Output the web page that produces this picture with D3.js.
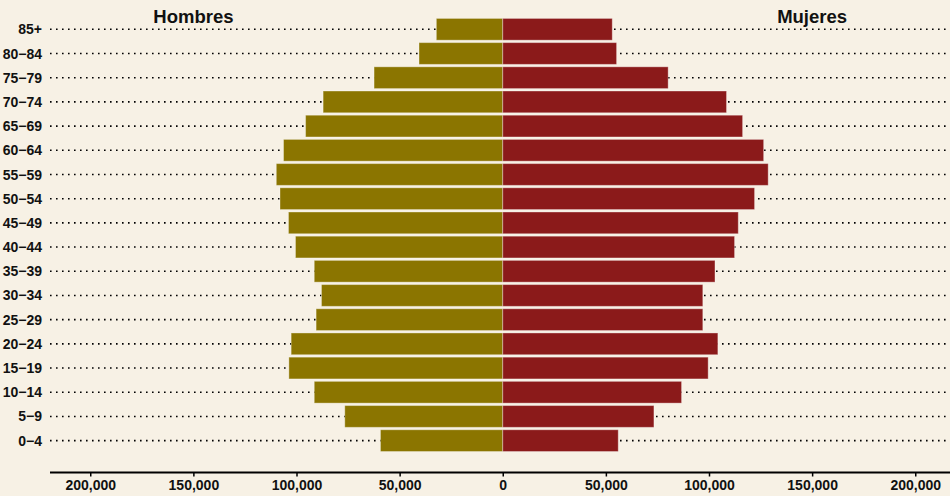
<!DOCTYPE html>
<html>
<head>
<meta charset="utf-8">
<script src="https://cdn.jsdelivr.net/npm/d3@7"></script>
<style>
  body { margin: 0; background: #f7f1e5; }
  svg { display: block; font-family: 'Liberation Sans', Arial, sans-serif; }
</style>
</head>
<body>
<svg id="chart" width="950" height="496"></svg>
<script>
// Datos de la pirámide (grupos de edad de abajo hacia arriba)
const grupos = ['0−4', '5−9', '10−14', '15−19', '20−24', '25−29', '30−34', '35−39', '40−44',
  '45−49', '50−54', '55−59', '60−64', '65−69', '70−74', '75−79', '80−84', '85+']
const hombres = [59300, 76600, 91400, 103700, 102600, 90500, 87900, 91400, 100500,
  103900, 108000, 109800, 106300, 95600, 87100, 62400, 40600, 32200]
const mujeres = [56000, 73300, 86700, 99600, 104300, 97000, 97000, 102900, 112400,
  114200, 122100, 128700, 126500, 116300, 108500, 80200, 55200, 53100]
const ticks = [-200000, -150000, -100000, -50000, 0, 50000, 100000, 150000, 200000]

const svg = d3.select('#chart')
const width = +svg.attr('width')
const height = +svg.attr('height')

svg.append('rect')
    .attr('width', width)
    .attr('height', height)
    .attr('fill', '#f7f1e5')

const margin = { top: 16, right: 0, bottom: 23, left: 49 }

const xScale = d3.scaleLinear()
    .domain([-220000, 220000])
    .range([margin.left, margin.left + 907.5])

const yScale = d3.scaleBand()
    .domain(grupos.slice().reverse())
    .range([margin.top, margin.top + 24.33 * 18])
    .padding(0.1)

const axisY = height - margin.bottom - 0.5

// Líneas punteadas de cada grupo
svg.append('g').selectAll('line').data(grupos)
    .enter().append('line')
        .attr('x1', 50)
        .attr('x2', width)
        .attr('y1', d => yScale(d) + yScale.bandwidth() / 2)
        .attr('y2', d => yScale(d) + yScale.bandwidth() / 2)
        .attr('stroke', '#000')
        .attr('stroke-width', 1.6)
        .attr('stroke-dasharray', '1.6,4.4')

const datos = grupos.map((g, i) => ({ grupo: g, h: hombres[i], m: mujeres[i] }))

// Hombres (izquierda)
svg.append('g').selectAll('rect').data(datos)
    .enter().append('rect')
        .attr('x', d => xScale(-d.h))
        .attr('y', d => yScale(d.grupo))
        .attr('width', d => xScale(0) - xScale(-d.h))
        .attr('height', yScale.bandwidth())
        .attr('fill', '#8b7500')
        .attr('stroke', 'rgba(255,255,255,0.35)')
        .attr('stroke-width', 1)

// Mujeres (derecha)
svg.append('g').selectAll('rect').data(datos)
    .enter().append('rect')
        .attr('x', xScale(0))
        .attr('y', d => yScale(d.grupo))
        .attr('width', d => xScale(d.m) - xScale(0))
        .attr('height', yScale.bandwidth())
        .attr('fill', '#8b1a1a')
        .attr('stroke', 'rgba(255,255,255,0.35)')
        .attr('stroke-width', 1)

// Etiquetas de edad
svg.append('g').selectAll('text').data(grupos)
    .enter().append('text')
        .attr('x', 42)
        .attr('y', d => yScale(d) + yScale.bandwidth() / 2)
        .attr('dy', '0.36em')
        .attr('text-anchor', 'end')
        .attr('font-size', 14)
        .attr('font-weight', 'bold')
        .attr('fill', '#111')
        .text(d => d)

// Eje x
const xAxis = d3.axisBottom(xScale)
    .tickValues(ticks)
    .tickSize(4)
    .tickPadding(4)
    .tickFormat(d => d3.format(',')(Math.abs(d)))

const xAxisGroup = svg.append('g')
    .attr('transform', `translate(0, ${axisY})`)
    .call(xAxis)

xAxisGroup.select('.domain')
    .attr('d', `M50,0H${width}`)
    .attr('stroke-width', 2)
xAxisGroup.selectAll('.tick line').attr('stroke-width', 1.5)
xAxisGroup.selectAll('.tick text')
    .attr('font-size', 14)
    .attr('font-weight', 'bold')
    .attr('font-family', "'Liberation Sans', Arial, sans-serif")
    .attr('fill', '#111')

// Títulos
svg.append('text')
    .attr('x', xScale(-150000))
    .attr('y', 23)
    .attr('text-anchor', 'middle')
    .attr('font-size', 18.5)
    .attr('font-weight', 600)
    .attr('fill', '#111')
    .text('Hombres')

svg.append('text')
    .attr('x', xScale(150000))
    .attr('y', 23)
    .attr('text-anchor', 'middle')
    .attr('font-size', 18.5)
    .attr('font-weight', 600)
    .attr('fill', '#111')
    .text('Mujeres')
</script>
</body>
</html>
